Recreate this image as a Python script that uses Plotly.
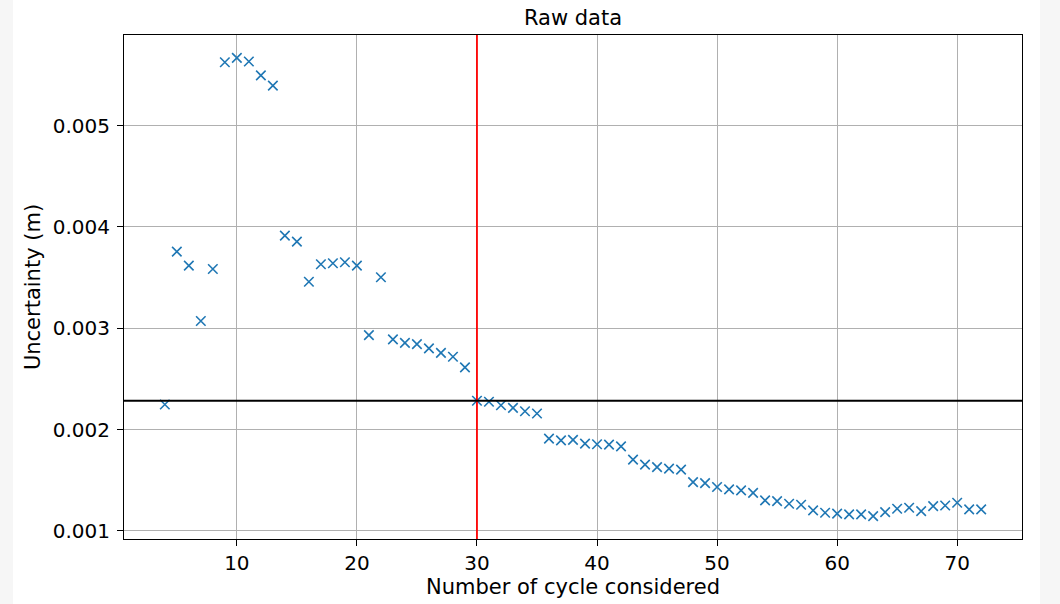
import plotly.graph_objects as go

# Data
cycles = list(range(4, 73))
uncertainty = [
    0.002247, 0.003756, 0.003618, 0.003071, 0.003585, 0.005626, 0.005669, 0.005633,
    0.005497, 0.005395, 0.003914, 0.003855, 0.003459, 0.003632, 0.003641, 0.003651,
    0.003618, 0.002932, 0.003503, 0.002890, 0.002856, 0.002843, 0.002801, 0.002757,
    0.002718, 0.002613, 0.002284, 0.002274, 0.002240, 0.002213, 0.002180, 0.002158,
    0.001910, 0.001893, 0.001898, 0.001861, 0.001854, 0.001851, 0.001834, 0.001703,
    0.001653, 0.001629, 0.001614, 0.001604, 0.001481, 0.001471, 0.001432, 0.001409,
    0.001399, 0.001374, 0.001300, 0.001293, 0.001267, 0.001257, 0.001201, 0.001178,
    0.001169, 0.001162, 0.001162, 0.001145, 0.001184, 0.001218, 0.001228, 0.001194,
    0.001243, 0.001250, 0.001277, 0.001211, 0.001211,
]
cut_cycle = 30
threshold = 0.002284

x_ticks = [10, 20, 30, 40, 50, 60, 70]
y_ticks = [0.001, 0.002, 0.003, 0.004, 0.005]
y_tick_labels = ["0.001", "0.002", "0.003", "0.004", "0.005"]

FONT = "DejaVu Sans"

fig = go.Figure()
fig.add_trace(go.Scatter(
    x=cycles, y=uncertainty, mode="markers",
    marker=dict(symbol="x-thin", size=9.5, color="#1f77b4",
                line=dict(width=1.6, color="#1f77b4")),
    showlegend=False,
))

fig.add_vline(x=cut_cycle, line=dict(color="#ff0000", width=1.8))
fig.add_hline(y=threshold, line=dict(color="black", width=1.8))

# light grey side strips of the page
fig.add_shape(type="rect", xref="paper", yref="paper", x0=-0.2, x1=-0.1236,
              y0=-0.3, y1=1.3, fillcolor="#f6f6f6", line_width=0, layer="below")
fig.add_shape(type="rect", xref="paper", yref="paper", x0=1.0200, x1=1.2,
              y0=-0.3, y1=1.3, fillcolor="#f6f6f6", line_width=0, layer="below")

axis_common = dict(
    showline=True, linecolor="black", linewidth=1, mirror=True,
    ticks="outside", ticklen=6, tickwidth=1, tickcolor="black",
    showgrid=True, gridcolor="#b0b0b0", gridwidth=1, zeroline=False,
    automargin=False,
    tickfont=dict(family=FONT, size=20, color="black"),
)

fig.update_layout(
    width=1060, height=604,
    margin=dict(l=124, r=38, t=35, b=65),
    paper_bgcolor="white", plot_bgcolor="white",
    font=dict(family=FONT, color="black"),
    title=dict(text="Raw data", x=0.5, xref="paper", y=0.970, yref="container",
               xanchor="center", yanchor="middle",
               font=dict(family=FONT, size=21, color="black")),
    xaxis=dict(range=[0.6, 75.4], tickvals=x_ticks,
               title=dict(text="Number of cycle considered", standoff=5,
                          font=dict(family=FONT, size=21, color="black")),
               **axis_common),
    yaxis=dict(range=[0.000919, 0.005895], tickvals=y_ticks, ticktext=y_tick_labels,
               ticklabelstandoff=3,
               title=dict(text="Uncertainty (m)", standoff=6,
                          font=dict(family=FONT, size=21, color="black")),
               **axis_common),
)

fig.write_html(
    "out.html",
    config={"displayModeBar": False},
    post_script="document.body.style.margin='0';document.body.style.overflow='hidden';",
)
